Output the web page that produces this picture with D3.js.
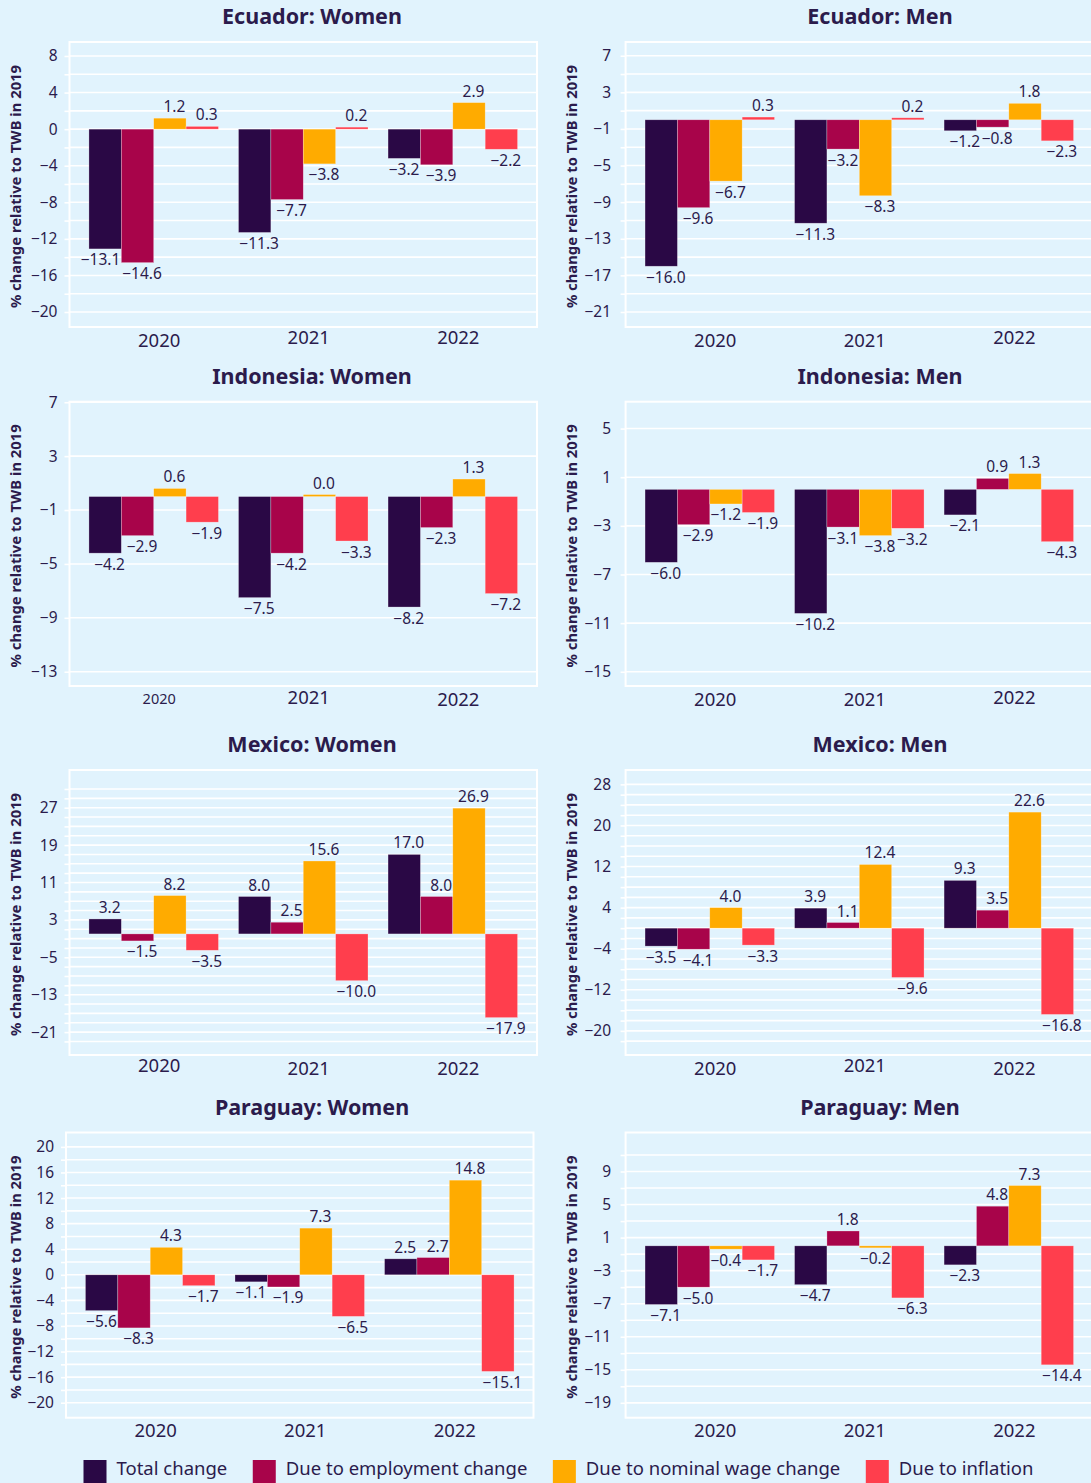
<!DOCTYPE html>
<html><head><meta charset="utf-8">
<script src="https://cdn.jsdelivr.net/npm/d3@7"></script>
<style>
body{margin:0;background:#e1f3fd}
svg{display:block;font-family:"Noto Sans",sans-serif}
</style>
</head><body>
<svg id="c" width="1091" height="1483"></svg>
<script>
// ---------- data ----------
const years = ["2020", "2021", "2022"];
const seriesNames = ["Total change", "Due to employment change", "Due to nominal wage change", "Due to inflation"];

// each panel: [total, employment, nominal wage, inflation] x years
const ecuadorWomen   = [[-13.1, -11.3, -3.2], [-14.6, -7.7, -3.9], [1.2, -3.8, 2.9], [0.3, 0.2, -2.2]];
const ecuadorMen     = [[-16.0, -11.3, -1.2], [-9.6, -3.2, -0.8], [-6.7, -8.3, 1.8], [0.3, 0.2, -2.3]];
const indonesiaWomen = [[-4.2, -7.5, -8.2], [-2.9, -4.2, -2.3], [0.6, 0.0, 1.3], [-1.9, -3.3, -7.2]];
const indonesiaMen   = [[-6.0, -10.2, -2.1], [-2.9, -3.1, 0.9], [-1.2, -3.8, 1.3], [-1.9, -3.2, -4.3]];
const mexicoWomen    = [[3.2, 8.0, 17.0], [-1.5, 2.5, 8.0], [8.2, 15.6, 26.9], [-3.5, -10.0, -17.9]];
const mexicoMen      = [[-3.5, 3.9, 9.3], [-4.1, 1.1, 3.5], [4.0, 12.4, 22.6], [-3.3, -9.6, -16.8]];
const paraguayWomen  = [[-5.6, -1.1, 2.5], [-8.3, -1.9, 2.7], [4.3, 7.3, 14.8], [-1.7, -6.5, -15.1]];
const paraguayMen    = [[-7.1, -4.7, -2.3], [-5.0, 1.8, 4.8], [-0.4, -0.2, 7.3], [-1.7, -6.3, -14.4]];

// tick labels
const ecuadorWomenTicks   = [8, 4, 0, -4, -8, -12, -16, -20];
const ecuadorMenTicks     = [7, 3, -1, -5, -9, -13, -17, -21];
const indonesiaWomenTicks = [7, 3, -1, -5, -9, -13];
const indonesiaMenTicks   = [5, 1, -3, -7, -11, -15];
const mexicoWomenTicks    = [27, 19, 11, 3, -5, -13, -21];
const mexicoMenTicks      = [28, 20, 12, 4, -4, -12, -20];
const paraguayWomenTicks  = [20, 16, 12, 8, 4, 0, -4, -8, -12, -16, -20];
const paraguayMenTicks    = [9, 5, 1, -3, -7, -11, -15, -19];

// axis ranges [min, max]
const ecuadorWomenRange   = [-21.64, 9.53];
const ecuadorMenRange     = [-22.64, 8.5];
const indonesiaWomenRange = [-14.06, 7.04];
const indonesiaMenRange   = [-16.17, 7.21];
const mexicoWomenRange    = [-25.9, 35.06];
const mexicoMenRange      = [-24.7, 30.8];
const paraguayWomenRange  = [-22.34, 22.25];
const paraguayMenRange    = [-20.8, 13.72];

// ---------- styles / layout ----------
const colors = ["#2a0845", "#a8044a", "#ffab00", "#ff3e4d"];
const textColor = "#2b1b4c";
const bg = "#e1f3fd";
const colX = [[69.5, 537], [625.6, 1093]];
const rowY = [[42, 327], [401.7, 686], [770, 1055], [1132.5, 1417.7]];
const titleX = [312, 880];
const axisTitleX = [16, 572];
const tickPad = [7, 9.5];
const valueFont = 15.5;

const panels = [
  {title: "Ecuador: Women",   v: ecuadorWomen,   t: ecuadorWomenTicks,   r: ecuadorWomenRange,   minor: 2,    row: 0, col: 0, lift: [0, 3, 3], ysize: [18.5, 18.5, 18.5], dx: 0},
  {title: "Ecuador: Men",     v: ecuadorMen,     t: ecuadorMenTicks,     r: ecuadorMenRange,     minor: 2,    row: 0, col: 1, lift: [0, 0, 3], ysize: [18.5, 18.5, 18.5], dx: 0},
  {title: "Indonesia: Women", v: indonesiaWomen, t: indonesiaWomenTicks, r: indonesiaWomenRange, minor: null, row: 1, col: 0, lift: [2, 2, 0], ysize: [14.5, 18.5, 18.5], dx: 0},
  {title: "Indonesia: Men",   v: indonesiaMen,   t: indonesiaMenTicks,   r: indonesiaMenRange,   minor: null, row: 1, col: 1, lift: [0, 0, 2], ysize: [18.5, 18.5, 18.5], dx: 0},
  {title: "Mexico: Women",    v: mexicoWomen,    t: mexicoWomenTicks,    r: mexicoWomenRange,    minor: 2,    row: 2, col: 0, lift: [3, 0, 0], ysize: [18.5, 18.5, 18.5], dx: 0},
  {title: "Mexico: Men",      v: mexicoMen,      t: mexicoMenTicks,      r: mexicoMenRange,      minor: 2,    row: 2, col: 1, lift: [0, 3, 0], ysize: [18.5, 18.5, 18.5], dx: 0},
  {title: "Paraguay: Women",  v: paraguayWomen,  t: paraguayWomenTicks,  r: paraguayWomenRange,  minor: 2,    row: 3, col: 0, lift: [1, 1, 1], ysize: [18.5, 18.5, 18.5], dx: -3.5},
  {title: "Paraguay: Men",    v: paraguayMen,    t: paraguayMenTicks,    r: paraguayMenRange,    minor: 2,    row: 3, col: 1, lift: [1, 1, 1], ysize: [18.5, 18.5, 18.5], dx: 0}
];

const svg = d3.select("#c");
svg.append("rect").attr("width", 1091).attr("height", 1483).attr("fill", bg);
const fmt = d3.format(".1f");

panels.forEach(p => {
  const x0 = colX[p.col][0] + p.dx, x1 = colX[p.col][1] + p.dx;
  const yTop = rowY[p.row][0], yBot = rowY[p.row][1];
  const y = d3.scaleLinear().domain(p.r).range([yBot, yTop]);
  const xg = d3.scaleBand().domain(years).range([x0, x1]).paddingInner(0.134).paddingOuter(0.13);
  const xs = d3.scaleBand().domain(d3.range(4)).range([0, xg.bandwidth()]).padding(0);
  const g = svg.append("g");

  // minor values
  let minorVals = [];
  if (p.minor) {
    const base = p.t[0];
    const kLo = Math.ceil((p.r[0] - base) / p.minor), kHi = Math.floor((p.r[1] - base) / p.minor);
    for (let k = kLo; k <= kHi; k++) {
      const v = base + k * p.minor;
      if (p.t.some(t => Math.abs(t - v) < 1e-9)) continue;
      const py = y(v);
      if (py - yTop < 12 || yBot - py < 12) continue;
      minorVals.push(v);
    }
  }
  const gridVals = p.t.concat(minorVals);

  // gridlines
  g.append("g").selectAll("line").data(gridVals).join("line")
    .attr("x1", x0).attr("x2", x1)
    .attr("y1", d => y(d)).attr("y2", d => y(d))
    .attr("stroke", "#fff").attr("stroke-width", 1.6);

  // frame
  g.append("rect").attr("x", x0).attr("y", yTop).attr("width", x1 - x0).attr("height", yBot - yTop)
    .attr("fill", "none").attr("stroke", "#fff").attr("stroke-width", 2);

  // minor tick marks
  const minorAxis = d3.axisLeft(y).tickValues(minorVals).tickSize(5).tickFormat("");
  const ma = g.append("g").attr("transform", `translate(${x0},0)`).call(minorAxis);
  ma.select(".domain").remove();
  ma.selectAll("line").attr("stroke", "#fff").attr("stroke-width", 1.6);

  // major axis
  const axis = d3.axisLeft(y).tickValues(p.t).tickSize(5).tickPadding(tickPad[p.col]).tickFormat(d3.format("d"));
  const ax = g.append("g").attr("transform", `translate(${x0},0)`).call(axis);
  ax.select(".domain").remove();
  ax.selectAll("line").attr("stroke", "#fff").attr("stroke-width", 1.6);
  ax.selectAll("text").attr("fill", textColor).attr("font-size", 15.5).attr("font-family", '"Noto Sans",sans-serif');

  // bars
  const rows = [];
  p.v.forEach((arr, s) => arr.forEach((val, i) => rows.push({s, i, year: years[i], val})));
  const barH = d => Math.max(2, Math.abs(y(d.val) - y(0)));
  const barY = d => d.val >= 0 ? y(0) - barH(d) : y(0);
  g.append("g").selectAll("rect").data(rows).join("rect")
    .attr("x", d => xg(d.year) + xs(d.s))
    .attr("width", xs.bandwidth())
    .attr("y", barY)
    .attr("height", barH)
    .attr("fill", d => colors[d.s])
    .attr("stroke", "rgba(255,255,255,0.45)").attr("stroke-width", 0.6);

  // value labels (shifted left when the next bar reaches lower)
  const labels = g.append("g").selectAll("text").data(rows).join("text")
    .attr("y", d => d.val >= 0 ? barY(d) - 6 : barY(d) + barH(d) + 16.5)
    .attr("text-anchor", "middle")
    .attr("font-size", valueFont)
    .attr("fill", textColor)
    .text(d => fmt(d.val));
  labels.each(function(d) {
    const w = this.getComputedTextLength();
    let cx = xg(d.year) + xs(d.s) + xs.bandwidth() / 2 + 4.5;
    if (d.val < 0 && d.s < 3) {
      const nv = p.v[d.s + 1][d.i];
      if (nv < d.val) {
        const nextX = xg(d.year) + xs(d.s + 1);
        cx = Math.min(cx, nextX - w / 2 - 1);
      }
    }
    d3.select(this).attr("x", cx);
  });

  // year labels
  g.append("g").selectAll("text").data(years).join("text")
    .attr("x", d => xg(d) + xg.bandwidth() / 2 + 5.5)
    .attr("y", (d, i) => yBot + 20 - p.lift[i])
    .attr("text-anchor", "middle")
    .attr("font-size", (d, i) => p.ysize[i])
    .attr("fill", textColor)
    .text(d => d);

  // title
  g.append("text").attr("x", titleX[p.col]).attr("y", yTop - 18)
    .attr("text-anchor", "middle").attr("font-size", 21.5).attr("font-weight", 700)
    .attr("fill", textColor).text(p.title);

  // y-axis title
  g.append("text")
    .attr("transform", `translate(${axisTitleX[p.col]},${(yTop + yBot) / 2 + 2}) rotate(-90)`)
    .attr("text-anchor", "middle").attr("dy", "0.35em")
    .attr("font-size", 14.8).attr("font-weight", 700)
    .attr("fill", textColor).text("% change relative to TWB in 2019");
});

// legend
const lg = svg.append("g");
let lx = 83.5;
seriesNames.forEach((name, i) => {
  lg.append("rect").attr("x", lx).attr("y", 1460).attr("width", 23).attr("height", 23).attr("fill", colors[i]);
  const t = lg.append("text").attr("x", lx + 33).attr("y", 1474.5)
    .attr("font-size", 18.5).attr("fill", textColor).text(name);
  lx += 33 + t.node().getComputedTextLength() + 25.5;
});
</script>
</body></html>
